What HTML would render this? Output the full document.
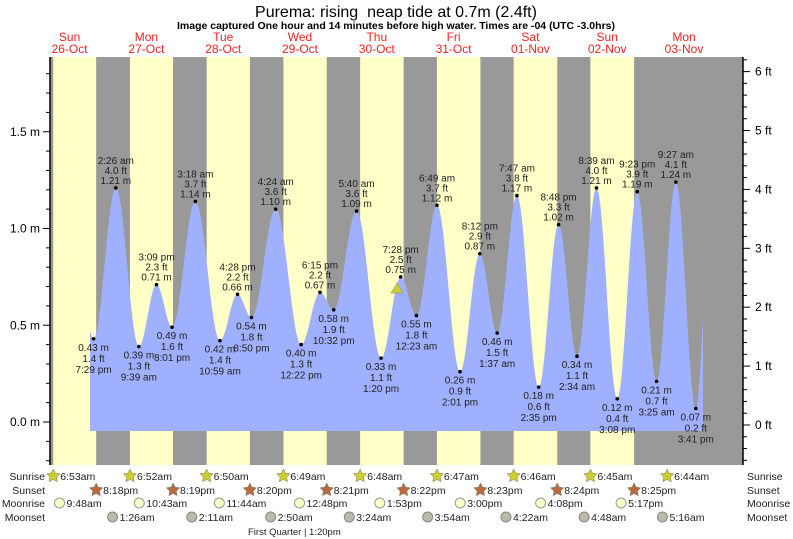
<!DOCTYPE html>
<html><head><meta charset="utf-8"><style>
body{margin:0;background:#fff;}
svg{display:block;font-family:"Liberation Sans",sans-serif;}
</style></head><body>
<svg id="s" width="793" height="539" xmlns="http://www.w3.org/2000/svg">
<text x="396" y="17" font-size="16" text-anchor="middle" fill="#000">Purema: rising&#160; neap tide at 0.7m (2.4ft)</text>
<text x="396" y="29" font-size="10.5" font-weight="bold" text-anchor="middle" fill="#000">Image captured One hour and 14 minutes before high water. Times are -04 (UTC -3.0hrs)</text>
<g id="bg"></g><g id="tide"></g><g id="lab" font-size="10" fill="#222" text-anchor="middle"></g><g id="ax"></g><g id="bot" font-size="10.5" fill="#222"></g>
</svg>
<script>
var NS="http://www.w3.org/2000/svg";
function el(p,t,a,txt){var e=document.createElementNS(NS,t);for(var k in a)e.setAttribute(k,a[k]);if(txt!=null)e.textContent=txt;document.getElementById(p).appendChild(e);return e;}
var M0=31.2,DW=76.8;
function X(d,h,m){return M0+(d+(h+(m||0)/60)/24)*DW;}
function Y(v){return 422-193.5*v;}
var T=57,B=465;
el("bg","rect",{x:50,y:T,width:693,height:B-T,fill:"#999"});
var sr=[[6,53],[6,52],[6,50],[6,49],[6,48],[6,47],[6,46],[6,45],[6,44]];
var ss=[[20,18],[20,19],[20,20],[20,21],[20,22],[20,23],[20,24],[20,25]];
for(var d=0;d<8;d++){var a=X(d,sr[d][0],sr[d][1]),b=X(d,ss[d][0],ss[d][1]);el("bg","rect",{x:a,y:T,width:b-a,height:B-T,fill:"#ffffc8"});}
var days=[["Sun","26-Oct"],["Mon","27-Oct"],["Tue","28-Oct"],["Wed","29-Oct"],["Thu","30-Oct"],["Fri","31-Oct"],["Sat","01-Nov"],["Sun","02-Nov"],["Mon","03-Nov"]];
for(var d=0;d<9;d++){var cx=X(d,12);el("bg","text",{x:cx,y:41,"font-size":12,fill:"#ff2020","text-anchor":"middle"},days[d][0]);el("bg","text",{x:cx,y:53,"font-size":12,fill:"#ff2020","text-anchor":"middle"},days[d][1]);}
var td=[[0,13,0,1.05,0],[0,19,29,0.43,"7:29 pm"],[1,2,26,1.21,"2:26 am"],[1,9,39,0.39,"9:39 am"],[1,15,9,0.71,"3:09 pm"],[1,20,1,0.49,"8:01 pm"],
[2,3,18,1.14,"3:18 am"],[2,10,59,0.42,"10:59 am"],[2,16,28,0.66,"4:28 pm"],[2,20,50,0.54,"8:50 pm"],
[3,4,24,1.10,"4:24 am"],[3,12,22,0.40,"12:22 pm"],[3,18,15,0.67,"6:15 pm"],[3,22,32,0.58,"10:32 pm"],
[4,5,40,1.09,"5:40 am"],[4,13,20,0.33,"1:20 pm"],[4,19,28,0.75,"7:28 pm"],[5,0,23,0.55,"12:23 am"],
[5,6,49,1.12,"6:49 am"],[5,14,1,0.26,"2:01 pm"],[5,20,12,0.87,"8:12 pm"],[6,1,37,0.46,"1:37 am"],
[6,7,47,1.17,"7:47 am"],[6,14,35,0.18,"2:35 pm"],[6,20,48,1.02,"8:48 pm"],[7,2,34,0.34,"2:34 am"],
[7,8,39,1.21,"8:39 am"],[7,15,8,0.12,"3:08 pm"],[7,21,23,1.19,"9:23 pm"],[8,3,25,0.21,"3:25 am"],
[8,9,27,1.24,"9:27 am"],[8,15,41,0.07,"3:41 pm"],[8,20,40,1.2,0]];
var pts=td.map(function(t){return [X(t[0],t[1],t[2]),t[3]];});
var x0=90,x1=703,d="M"+x0+",431";
for(var x=x0;x<=x1;x+=1){var i=0;while(i<pts.length-2&&pts[i+1][0]<x)i++;var p=pts[i],q=pts[i+1];var f=(x-p[0])/(q[0]-p[0]);var v=p[1]+(q[1]-p[1])*(1-Math.cos(Math.PI*f))/2;d+=" L"+x+","+Y(v).toFixed(1);}
d+=" L"+x1+",431 Z";
el("tide","path",{d:d,fill:"#9fb0ff"});
for(var k=1;k<td.length-1;k++){var t=td[k],px=pts[k][0],py=Y(t[3]),hi=t[3]>td[k-1][3];
el("lab","circle",{cx:px,cy:py,r:1.8,fill:"#000"});
var ft=(t[3]/0.3048).toFixed(1)+" ft",m=t[3].toFixed(2)+" m";
if(hi){el("lab","text",{x:px,y:py-4},m);el("lab","text",{x:px,y:py-14},ft);el("lab","text",{x:px,y:py-24},t[4]);}
else{el("lab","text",{x:px,y:py+12},m);el("lab","text",{x:px,y:py+23},ft);el("lab","text",{x:px,y:py+34},t[4]);}}
el("lab","polygon",{points:"391,293 403,293 397,283",fill:"#cccc33",stroke:"#888","stroke-width":0.5});
el("ax","line",{x1:50,y1:T,x2:50,y2:B,stroke:"#000","stroke-width":1.5});
el("ax","line",{x1:743,y1:T,x2:743,y2:B,stroke:"#000","stroke-width":1.5});
for(var v=-0.2;v<=1.85;v+=0.1){var y=Y(v);if(y<T||y>B)continue;var maj=Math.abs(v*2-Math.round(v*2))<0.01;el("ax","line",{x1:maj?43:46,y1:y,x2:50,y2:y,stroke:"#000"});
if(maj)el("ax","text",{x:40,y:y+4,"font-size":12,"text-anchor":"end"},(Math.round(v*10)/10).toFixed(1)+" m");}
function YF(f){return 425-58.9*f;}
for(var f=-0.6;f<=6.3;f+=0.2){var y=YF(f);if(y<T||y>B)continue;var maj=Math.abs(f-Math.round(f))<0.01;el("ax","line",{x1:743,y1:y,x2:maj?750:747,y2:y,stroke:"#000"});
if(maj)el("ax","text",{x:755,y:y+4,"font-size":12},Math.round(f)+" ft");}
var rows=[["Sunrise",480],["Sunset",494],["Moonrise",507],["Moonset",521]];
rows.forEach(function(r){el("bot","text",{x:45,y:r[1],"text-anchor":"end"},r[0]);el("bot","text",{x:747,y:r[1]},r[0]);});
function star(cx,cy,col){var s="";for(var i=0;i<10;i++){var a=-Math.PI/2+i*Math.PI/5,rr=i%2?3.5:7;s+=(cx+rr*Math.cos(a)).toFixed(1)+","+(cy+rr*Math.sin(a)).toFixed(1)+" ";}el("bot","polygon",{points:s,fill:col,stroke:"#776","stroke-width":0.5});}
for(var i=0;i<9;i++){var x=X(i,sr[i][0],sr[i][1]);star(x,476,"#cccc33");el("bot","text",{x:x+7,y:480},sr[i][0]+":"+sr[i][1]+"am");}
for(var i=0;i<8;i++){var x=X(i,ss[i][0],ss[i][1]);star(x,490,"#b86a40");el("bot","text",{x:x+7,y:494},(ss[i][0]-12)+":"+ss[i][1]+"pm");}
var mr=[[0,9,48,"9:48am"],[1,10,43,"10:43am"],[2,11,44,"11:44am"],[3,12,48,"12:48pm"],[4,13,53,"1:53pm"],[5,15,0,"3:00pm"],[6,16,8,"4:08pm"],[7,17,17,"5:17pm"]];
mr.forEach(function(m){var x=X(m[0],m[1],m[2])-3;el("bot","circle",{cx:x,cy:503,r:5,fill:"#ffffc8",stroke:"#999"});el("bot","text",{x:x+7,y:507},m[3]);});
var ms=[[1,1,26,"1:26am"],[2,2,11,"2:11am"],[3,2,50,"2:50am"],[4,3,24,"3:24am"],[5,3,54,"3:54am"],[6,4,22,"4:22am"],[7,4,48,"4:48am"],[8,5,16,"5:16am"]];
ms.forEach(function(m){var x=X(m[0],m[1],m[2]);el("bot","circle",{cx:x,cy:517,r:5,fill:"#bbbbaa",stroke:"#888"});el("bot","text",{x:x+7,y:521},m[3]);});
el("bot","text",{x:248,y:535,"font-size":9.5},"First Quarter | 1:20pm");
</script>
</body></html>
